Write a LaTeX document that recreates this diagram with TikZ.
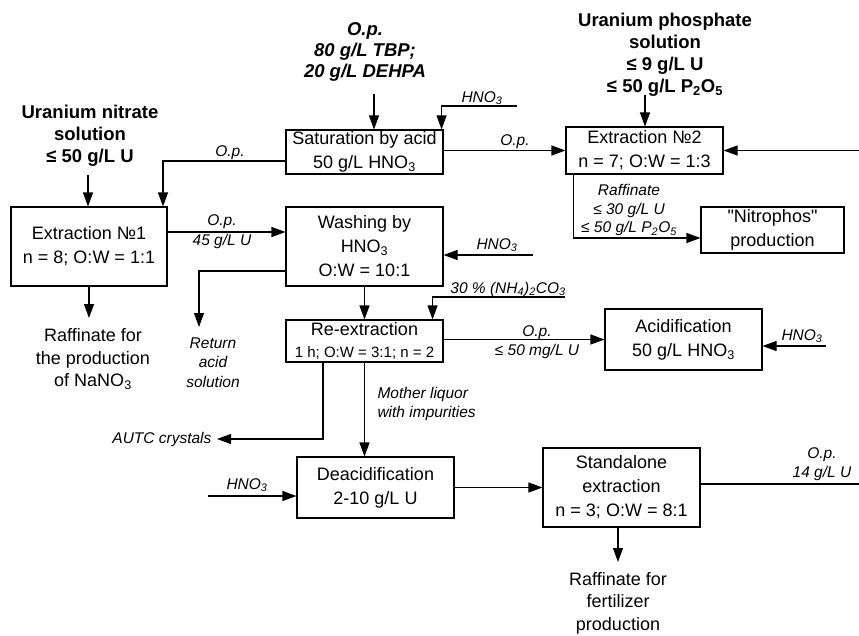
\documentclass[tikz,border=0pt]{standalone}
\usepackage{fontspec}
\setmainfont{Liberation Sans}
\usetikzlibrary{arrows.meta}

\begin{document}
\begin{tikzpicture}[x=1pt, y=-1pt, line width=1.1pt,
	box/.style = {draw, align=center, inner sep=0pt, font=\fontsize{18}{24}\selectfont},
	head/.style = {align=center, inner sep=0pt, font=\fontsize{18.5}{22}\selectfont\bfseries},
	txt/.style = {align=center, inner sep=0pt, font=\fontsize{18}{22.5}\selectfont},
	lbl/.style = {align=center, inner sep=0pt, font=\fontsize{15.5}{18.5}\selectfont\itshape},
	flow/.style = {-{Triangle[length=14pt, width=10pt]}}]
	\useasboundingbox (0,0) rectangle (859,635);

	\node[box, minimum width=157pt, minimum height=44pt] (sat) at (364.5,152) {Saturation by acid\\50 g/L HNO\textsubscript{3}};
	\node[box, minimum width=157pt, minimum height=47pt] (ext2) at (644.5,150.5) {Extraction №2\\n = 7; O:W = 1:3};
	\node[box, minimum width=156pt, minimum height=79pt] (ext1) at (89,246.5) {Extraction №1\\n = 8; O:W = 1:1};
	\node[box, minimum width=157pt, minimum height=79pt] (wash) at (364.5,246.5) {Washing by\\HNO\textsubscript{3}\\O:W = 10:1};
	\node[box, minimum width=143pt, minimum height=46pt] (nitro) at (772.5,230) {\textquotedbl Nitrophos\textquotedbl\\production};
	\node[box, minimum width=157pt, minimum height=42pt] (reext) at (364.5,341) {Re-extraction\\[-2pt]{\fontsize{15}{18}\selectfont 1 h; O:W = 3:1; n = 2}};
	\node[box, minimum width=157pt, minimum height=61pt] (acid) at (683.5,339.5) {Acidification\\50 g/L HNO\textsubscript{3}};
	\node[box, minimum width=157pt, minimum height=61pt] (deac) at (375.5,487.5) {Deacidification\\2-10 g/L U};
	\node[box, minimum width=157pt, minimum height=79pt] (stand) at (621.5,487.5) {Standalone\\extraction\\n = 3; O:W = 8:1};

	\node[head, font=\fontsize{18.5}{21}\selectfont\bfseries\itshape] (opin) at (365,51.5) {O.p.\\80 g/L TBP;\\20 g/L DEHPA};
	\node[head] (uphos) at (665,55) {Uranium phosphate\\solution\\≤ 9 g/L U\\≤ 50 g/L P\textsubscript{2}O\textsubscript{5}};
	\node[head] (unit) at (90,136) {Uranium nitrate\\solution\\≤ 50 g/L U};
	\node[txt] (raf1) at (93,359) {Raffinate for\\the production\\of NaNO\textsubscript{3}};
	\node[lbl, font=\fontsize{15.5}{19.5}\selectfont\itshape] (retacid) at (213,362.5) {Return\\acid\\solution};
	\node[txt] (raf2) at (618,603) {Raffinate for\\fertilizer\\production};

	\node[lbl] (l-h1) at (482,98) {HNO\textsubscript{3}};
	\node[lbl] (l-op1) at (515,142) {O.p.};
	\node[lbl] (l-op2) at (230,153) {O.p.};
	\node[lbl, font=\fontsize{15.5}{20}\selectfont\itshape] (l-op3) at (222,232) {O.p.\\45 g/L U};
	\node[lbl] (l-raf) at (629,210) {Raffinate\\≤ 30 g/L U\\≤ 50 g/L P\textsubscript{2}O\textsubscript{5}};
	\node[lbl] (l-h2) at (497,245) {HNO\textsubscript{3}};
	\node[lbl] (l-nh4) at (508,289) {30 \% (NH\textsubscript{4})\textsubscript{2}CO\textsubscript{3}};
	\node[lbl] (l-op4) at (537,342) {O.p.\\≤ 50 mg/L U};
	\node[lbl] (l-h3) at (802,336) {HNO\textsubscript{3}};
	\node[lbl, anchor=east] (l-autc) at (212,439) {AUTC crystals};
	\node[lbl, anchor=west, align=left] (l-mother) at (377,404) {Mother liquor\\with impurities};
	\node[lbl] (l-h4) at (247,485) {HNO\textsubscript{3}};
	\node[lbl] (l-op5) at (822,464) {O.p.\\14 g/L U};

	\coordinate (c-opin) at (374,94);
	\coordinate (c-h1) at (517,106);
	\coordinate (c-in2) at (859,150.5);
	\coordinate (c-uphos) at (645,95);
	\coordinate (c-unit) at (88,175);
	\coordinate (c-raf1) at (89,318);
	\coordinate (c-ret) at (199,327);
	\coordinate (c-h2) at (533,255);
	\coordinate (c-nh4) at (565,297);
	\coordinate (c-h3) at (826,346);
	\coordinate (c-autc) at (217,439);
	\coordinate (c-h4) at (208,496);
	\coordinate (c-out) at (859,484);
	\coordinate (c-raf2) at (618,562);

	\draw[flow] (c-opin) -- (c-opin |- sat.north);
	\draw[flow] (c-h1) -| ([xshift=-2pt]sat.north east);
	\draw[flow] (sat.east |- ext2.west) -- (ext2.west);
	\draw[flow] (c-in2) -- (ext2.east);
	\draw[flow] (c-uphos) -- (c-uphos |- ext2.north);
	\draw[flow] (c-unit) -- (c-unit |- ext1.north);
	\draw[flow] ([yshift=-9pt]sat.west) -| ([xshift=74pt]ext1.north);
	\draw[flow] ([yshift=14.5pt]ext1.east) -- ([yshift=14.5pt]wash.west);
	\draw[flow] (ext1.south) -- (c-raf1);
	\draw[flow] ([yshift=-24.5pt]wash.west) -| (c-ret);
	\draw[flow] (c-h2) -- (c-h2 -| wash.east);
	\draw[flow] (wash.south) -- (reext.north);
	\draw[flow] (c-nh4) -| ([xshift=-11pt]reext.north east);
	\draw[flow] (reext.east |- acid.west) -- (acid.west);
	\draw[flow] (c-h3) -- (c-h3 -| acid.east);
	\draw[flow] ([xshift=-41.5pt]reext.south) |- (c-autc);
	\draw[flow] (reext.south) -- (reext.south |- deac.north);
	\draw[flow] ([xshift=8pt]ext2.south west) |- ([yshift=-8pt]nitro.west);
	\draw[flow] (c-h4) -- (c-h4 -| deac.west);
	\draw[flow] (deac.east) -- (stand.west);
	\draw ([yshift=3.5pt]stand.east) -- (c-out);
	\draw[flow] (c-raf2 |- stand.south) -- (c-raf2);
\end{tikzpicture}
\end{document}
